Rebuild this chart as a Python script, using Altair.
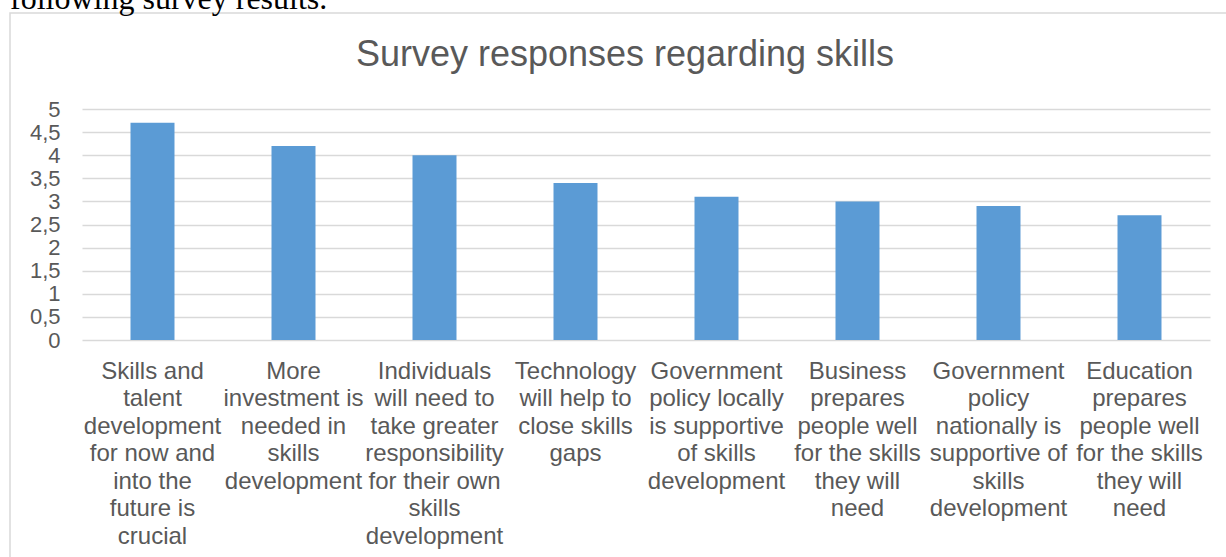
import altair as alt
import pandas as pd

# Category labels ("|" marks where the reference wraps the text)
categories = [
    "Skills and|talent|development|for now and|into the|future is|crucial",
    "More|investment is|needed in|skills|development",
    "Individuals|will need to|take greater|responsibility|for their own|skills|development",
    "Technology|will help to|close skills|gaps",
    "Government|policy locally|is supportive|of skills|development",
    "Business|prepares|people well|for the skills|they will|need",
    "Government|policy|nationally is|supportive of|skills|development",
    "Education|prepares|people well|for the skills|they will|need",
]
values = [4.7, 4.2, 4.0, 3.4, 3.1, 3.0, 2.9, 2.7]
y_ticks = [0, 0.5, 1, 1.5, 2, 2.5, 3, 3.5, 4, 4.5, 5]

title_text = "Survey responses regarding skills"
context_text = "following survey results."

df = pd.DataFrame({"category": categories, "value": values})

TEXT = "#595959"
GRID = "#D9D9D9"
BAR = "#5B9BD5"
FONT = "Liberation Sans"

PLOT_W, PLOT_H = 1128, 231
PAD_L, PAD_T = 82, 109

one = alt.Data(values=[{"k": 1}])

border = alt.Chart(one).mark_rect(
    filled=False, stroke=GRID, strokeWidth=1.5
).encode(
    x=alt.value(10 - PAD_L), x2=alt.value(1400),
    y=alt.value(13 - PAD_T), y2=alt.value(800),
)

context = alt.Chart(one).mark_text(
    font="Liberation Serif", fontSize=32, color="black",
    align="left", baseline="alphabetic"
).encode(
    x=alt.value(10 - PAD_L), y=alt.value(9 - PAD_T), text=alt.value(context_text)
)

title = alt.Chart(one).mark_text(
    font=FONT, fontSize=36, color=TEXT, align="center", baseline="alphabetic"
).encode(
    x=alt.value(625 - PAD_L), y=alt.value(66 - PAD_T), text=alt.value(title_text)
)

bars = alt.Chart(df).mark_bar(color=BAR).encode(
    x=alt.X(
        "category:N", sort=categories, title=None,
        scale=alt.Scale(paddingInner=0.688, paddingOuter=0.344),
        axis=alt.Axis(
            labelAngle=0, labelExpr="split(datum.label, '|')",
            labelFont=FONT, labelFontSize=24, labelLineHeight=27.5,
            labelColor=TEXT, labelBaseline="top", labelAlign="center",
            labelPadding=19, labelLimit=300, ticks=False, domain=False,
            grid=False,
        ),
    ),
    y=alt.Y(
        "value:Q", title=None,
        scale=alt.Scale(domain=[0, 5], nice=False),
        axis=alt.Axis(
            values=y_ticks, format="~g",
            labelExpr="replace(datum.label, '.', ',')",
            labelFont=FONT, labelFontSize=22, labelColor=TEXT,
            labelPadding=22, ticks=False, domain=False, labelOverlap=False,
            grid=True, gridColor=GRID, gridWidth=1.5,
        ),
    ),
)

chart = alt.layer(border, context, title, bars).properties(
    width=PLOT_W, height=PLOT_H,
    autosize=alt.AutoSizeParams(type="none"),
    padding={"left": PAD_L, "top": PAD_T, "right": 1226 - PAD_L - PLOT_W, "bottom": 557 - PAD_T - PLOT_H},
    background="white",
).configure_view(stroke=None)

chart.save("out.html", embed_options={"renderer": "svg", "actions": False})
